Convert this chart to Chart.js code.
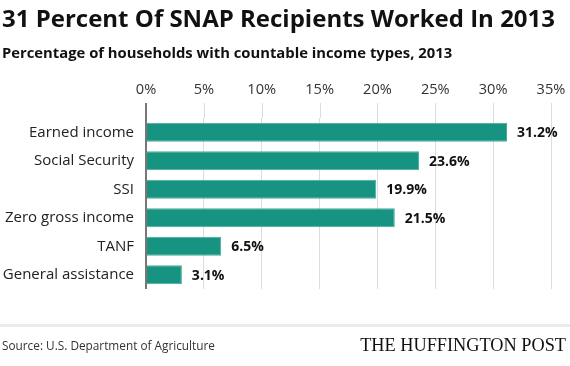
<!DOCTYPE html>
<html>
<head>
<meta charset="utf-8">
<script src="https://cdn.jsdelivr.net/npm/chart.js@4/dist/chart.umd.min.js"></script>
<style>
  html, body { margin: 0; padding: 0; background: #fff; }
  #wrap { position: relative; width: 570px; height: 366px; overflow: hidden; font-family: "Open Sans", sans-serif; }
  #title { position: absolute; left: 2px; top: 2px; font-size: 24px; line-height: 32px; font-weight: 700; color: #111; white-space: nowrap; }
  #subtitle { position: absolute; left: 2px; top: 42px; font-size: 14.8px; line-height: 20px; font-weight: 700; color: #111; white-space: nowrap; }
  #chartBox { position: absolute; left: 0; top: 0; width: 570px; height: 366px; }
  #rule { position: absolute; left: 0; top: 324px; width: 570px; height: 3px; background: #ebebeb; }
  #source { position: absolute; left: 2px; top: 337px; font-size: 11.8px; line-height: 16px; color: #333; white-space: nowrap; }
  #brand { position: absolute; right: 4px; top: 334px; font-family: "Liberation Serif", "DejaVu Serif", serif; font-size: 18.3px; line-height: 22px; color: #111; white-space: nowrap; }
</style>
</head>
<body>
<div id="wrap">
  <div id="chartBox"><canvas id="c" width="570" height="366"></canvas></div>
  <div id="title">31 Percent Of SNAP Recipients Worked In 2013</div>
  <div id="subtitle">Percentage of households with countable income types, 2013</div>
  <div id="rule"></div>
  <div id="source">Source: U.S. Department of Agriculture</div>
  <div id="brand">THE HUFFINGTON POST</div>
</div>
<script>
const categories = ["Earned income", "Social Security", "SSI", "Zero gross income", "TANF", "General assistance"];
const percentValues = [31.2, 23.6, 19.9, 21.5, 6.5, 3.1];
const valueLabels = ["31.2%", "23.6%", "19.9%", "21.5%", "6.5%", "3.1%"];
const tickValues = [0, 5, 10, 15, 20, 25, 30, 35];

const TICK_EXT = 15;

const gridExtPlugin = {
  id: 'gridExt',
  beforeDatasetsDraw(chart) {
    const ctx = chart.ctx;
    const xs = chart.scales.x;
    const top = chart.chartArea.top;
    ctx.save();
    tickValues.forEach((v) => {
      const px = Math.round(xs.getPixelForValue(v));
      const isZero = v === 0;
      ctx.strokeStyle = isZero ? '#777' : '#ddd';
      ctx.lineWidth = isZero ? 2 : 1;
      const off = isZero ? 0 : 0.5;
      ctx.beginPath();
      ctx.moveTo(px + off, top - TICK_EXT);
      ctx.lineTo(px + off, top);
      ctx.stroke();
    });
    ctx.restore();
  }
};

const barLabelPlugin = {
  id: 'barLabels',
  afterDatasetsDraw(chart) {
    const ctx = chart.ctx;
    const meta = chart.getDatasetMeta(0);
    ctx.save();
    ctx.font = '700 14px "Open Sans", sans-serif';
    ctx.fillStyle = '#111';
    ctx.textAlign = 'left';
    ctx.textBaseline = 'middle';
    meta.data.forEach((bar, i) => {
      ctx.fillText(valueLabels[i], bar.x + 10, bar.y + 1);
    });
    ctx.restore();
  }
};

new Chart(document.getElementById('c'), {
  type: 'bar',
  data: {
    labels: categories,
    datasets: [{
      data: percentValues,
      backgroundColor: '#179381',
      borderColor: '#45ad9c',
      borderWidth: 1,
      borderSkipped: 'start',
      categoryPercentage: 1,
      barPercentage: 0.66
    }]
  },
  options: {
    indexAxis: 'y',
    responsive: false,
    animation: false,
    layout: { padding: { top: 78, right: 19, bottom: 77, left: 0 } },
    plugins: { legend: { display: false }, tooltip: { enabled: false }, title: { display: false } },
    scales: {
      x: {
        position: 'top',
        min: 0,
        max: 35,
        afterBuildTicks(scale) { scale.ticks = tickValues.map(v => ({ value: v })); },
        afterFit(scale) { scale.height = 40; scale.paddingLeft = 0; scale.paddingRight = 0; },
        ticks: {
          padding: 19,
          maxRotation: 0,
          minRotation: 0,
          autoSkip: false,
          color: '#333',
          font: { family: '"Open Sans", sans-serif', size: 14.6 },
          callback: (v) => v + '%'
        },
        grid: {
          drawTicks: false,
          color: (c) => (c.tick && c.tick.value === 0) ? '#777' : '#ddd',
          lineWidth: (c) => (c.tick && c.tick.value === 0) ? 2 : 1
        },
        border: { display: false }
      },
      y: {
        afterFit(scale) { scale.width = 146; scale.paddingTop = 0; scale.paddingBottom = 0; },
        ticks: {
          padding: 12,
          color: '#222',
          font: { family: '"Open Sans", sans-serif', size: 15 }
        },
        grid: { display: false, drawTicks: false },
        border: { display: false }
      }
    }
  },
  plugins: [gridExtPlugin, barLabelPlugin]
});
</script>
</body>
</html>
